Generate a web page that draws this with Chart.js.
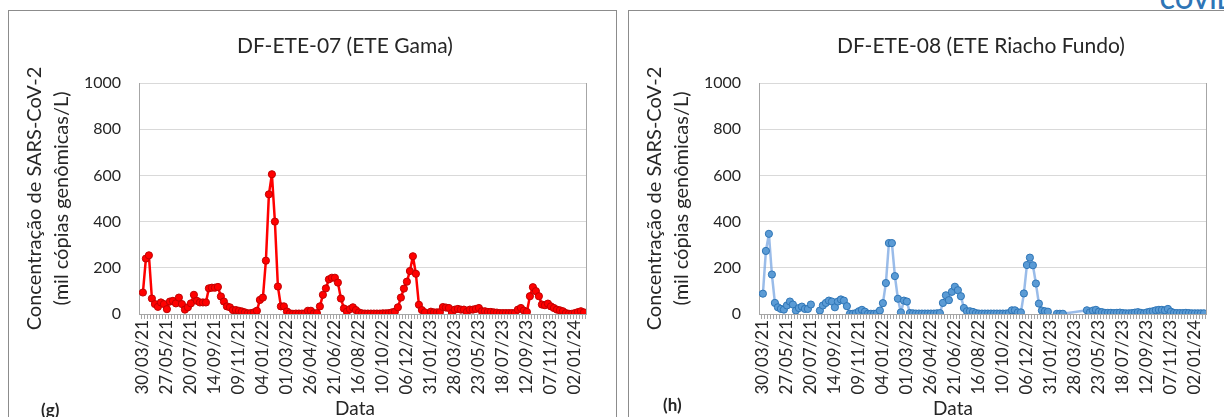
<!DOCTYPE html>
<html lang="pt">
<head>
<meta charset="UTF-8">
<title>Concentração de SARS-CoV-2 nas ETEs</title>
<script src="https://cdn.jsdelivr.net/npm/chart.js"></script>
<style>
  body { margin: 0; width: 1224px; height: 417px; overflow: hidden; background: #fff; position: relative; font-family: Lato, "Open Sans", sans-serif; color: #262626; }
  .painel { position: absolute; top: 10px; width: 607px; height: 420px; border: 1px solid #8c8c8c; background: #fff; }
  .painel canvas { position: absolute; left: 0; top: 0; }
  .titulo { position: absolute; top: 21px; font-size: 21px; line-height: 26px; text-align: center; }
  .eixo { position: absolute; top: 386px; font-size: 19px; line-height: 22px; text-align: center; width: 80px; }
  .letra { position: absolute; font-size: 17px; font-weight: bold; }
  .covid { position: absolute; top: -13px; left: 1160px; font-size: 22px; font-weight: bold; color: #2e75b6; letter-spacing: 1px; }
</style>
</head>
<body>
<div class="covid">COVID</div>

<div class="painel" style="left:8px">
  <div style="position:absolute;inset:0"><canvas id="g1"></canvas></div>
  <div class="titulo" style="left:0;width:672px">DF-ETE-07 (ETE Gama)</div>
  <div class="eixo" style="left:306px">Data</div>
  <div class="letra" style="left:32px;top:388px">(g)</div>
</div>

<div class="painel" style="left:628px">
  <div style="position:absolute;inset:0"><canvas id="g2"></canvas></div>
  <div class="titulo" style="left:0;width:704px">DF-ETE-08 (ETE Riacho Fundo)</div>
  <div class="eixo" style="left:284px">Data</div>
  <div class="letra" style="left:34px;top:383px">(h)</div>
</div>

<script>
// rótulos do eixo x (um a cada 8 coletas)
const rotulosX = ['30/03/21', '27/05/21', '20/07/21', '14/09/21', '09/11/21', '04/01/22', '01/03/22',
  '26/04/22', '21/06/22', '16/08/22', '10/10/22', '06/12/22', '31/01/23', '28/03/23', '23/05/23',
  '18/07/23', '12/09/23', '07/11/23', '02/01/24'];
const passoRotulo = 8;
const ticksY = [0, 200, 400, 600, 800, 1000];

// mil cópias genômicas/L; null = sem coleta (linha interrompida)
const gama = [
  93, 240, 254, 67, 43, 31, 50, 43, 21, 54, 57, 46, 71, 43, 19, 29, 46, 83, 57, 50,
  50, 50, 111, 114, 114, 117, 76, 54, 33, 29, 17, 17, 14, 11, 7, 3, 4, 7, 14, 61,
  71, 231, 518, 605, 400, 119, 33, 33, 11, 3, 1,
  2, 2, 2, 3, 14, 14, 3, 4, 33, 83, 111, 150, 157, 157, 136, 67, 24, 10, 21, 29, 17, 7,
  3, 2, 2, 2, 2, 2, 2, 3, 3, 4, 7, 10, 29, 71, 110, 140, 186, 250, 174, 40, 17, 7,
  null,
  10, 7, 7, 8, 30, 28, 26, 4, 19, 22, 19, 19, 9, 19, 19, 22, 26, 12, 12, 9, 9, 7, 6, 4,
  4, 4, 4, 4, 4, 19, 26, 15, 9, 77, 116, 99, 77, 41, 38, 45, 33, 26, 19, 16, 12, 4, 1, 1,
  4, 8, 12, 7
];

// '-' = semana sem amostra (linha liga os pontos vizinhos)
const riachoFundo = [
  88, 273, 347, 171, 48, 29, 22, 19, 37, 54, 41, 15, 26, 32, 22, 22, 41,
  null, null,
  15, 37, 48, 58, 54, 29, 54, 63, 58, 34, 1, 1, 4, 12, 18, 10, 1, 1, 1, 3, 15, 47, 134, 307, 307,
  164, 66, 7, 58, 54, 4, 3,
  2, 2, 2, 2, 2, 2, 2, 3,
  4, 48, 81, 60, 96, 118, 103, 77, 26, 12, 12, 9, 4,
  2, 2, 2, 2, 2, 2, 2, 2, 2, 2,
  4, 16, 16, 7, 7, 89, 212, 244, 211, 132, 45, 15, 12, 10,
  null, null,
  1, 1, 1,
  '-', '-', '-', '-', '-', '-', '-',
  16, 7, 15, 18, 10, 8, 5, 5, 5, 4, 5, 6, 4, 3, 3, 4, 6, 8, 5, 3,
  7, 10, 12, 16, 18, 18, 16, 22, 10, 5, 4, 4, 4, 5, 4, 3, 3, 3, 3, 3
];

const fonte = 'Lato';

// marcas menores do eixo x e borda direita da área de plotagem
const marcasX = {
  id: 'marcasX',
  beforeDatasetsDraw(chart) {
    const { ctx, chartArea, scales: { x } } = chart;
    const n = chart.data.datasets[0].data.length;
    ctx.save();
    ctx.strokeStyle = '#a6a6a6';
    ctx.lineWidth = 1;
    ctx.beginPath();
    for (let i = 0; i <= n + 8; i++) {
      const px = Math.round(x.getPixelForValue(i - 0.5)) + 0.5;
      if (px > chartArea.right) break;
      ctx.moveTo(px, chartArea.bottom);
      ctx.lineTo(px, chartArea.bottom + 5);
    }
    ctx.moveTo(Math.round(chartArea.right) + 0.5, chartArea.top);
    ctx.lineTo(Math.round(chartArea.right) + 0.5, chartArea.bottom);
    ctx.stroke();
    ctx.restore();
  }
};

function grafico(id, valores, cor) {
  const pontos = [];
  valores.forEach((v, i) => { if (v !== '-') pontos.push({ x: i, y: v }); });

  new Chart(document.getElementById(id), {
    type: 'line',
    data: {
      datasets: [{
        data: pontos,
        borderColor: cor.linha,
        borderWidth: 2.5,
        borderJoinStyle: 'round',
        backgroundColor: cor.ponto,
        pointBackgroundColor: cor.ponto,
        pointBorderColor: cor.bordaPonto,
        pointBorderWidth: 1,
        pointRadius: 3.6,
        spanGaps: false,
        tension: 0
      }]
    },
    options: {
      responsive: true,
      maintainAspectRatio: false,
      animation: false,
      layout: { padding: { top: 72, right: 30, bottom: 0, left: 0 } },
      plugins: { legend: { display: false }, tooltip: { enabled: false } },
      scales: {
        x: {
          type: 'linear',
          min: -1.3,
          max: valores.length - 0.3,
          afterFit: s => { s.height = 117; },
          afterBuildTicks: s => { s.ticks = rotulosX.map((_, k) => ({ value: k * passoRotulo })); },
          grid: { display: false, drawTicks: false },
          border: { color: '#a6a6a6', width: 1 },
          ticks: {
            autoSkip: false,
            minRotation: 90,
            maxRotation: 90,
            padding: 6,
            color: '#262626',
            font: { family: fonte, size: 17 },
            callback: v => rotulosX[v / passoRotulo]
          }
        },
        y: {
          min: 0,
          max: 1000,
          afterFit: s => { s.width = 130; },
          afterBuildTicks: s => { s.ticks = ticksY.map(v => ({ value: v })); },
          grid: { color: '#d9d9d9', drawTicks: false },
          border: { color: '#a6a6a6', width: 1 },
          ticks: {
            padding: 18,
            color: '#262626',
            font: { family: fonte, size: 16 },
            callback: v => String(v)
          },
          title: {
            display: true,
            text: ['Concentração de SARS-CoV-2', '(mil cópias genômicas/L)'],
            color: '#262626',
            font: { family: fonte, size: 20, lineHeight: 1.35 },
            padding: { top: 12, bottom: 0 }
          }
        }
      }
    },
    plugins: [marcasX]
  });
}

grafico('g1', gama, { linha: '#ff0000', ponto: '#ff0000', bordaPonto: '#c00000' });
grafico('g2', riachoFundo, { linha: 'rgba(120,165,225,0.75)', ponto: '#5b9bd5', bordaPonto: '#2e75b6' });
</script>
</body>
</html>
